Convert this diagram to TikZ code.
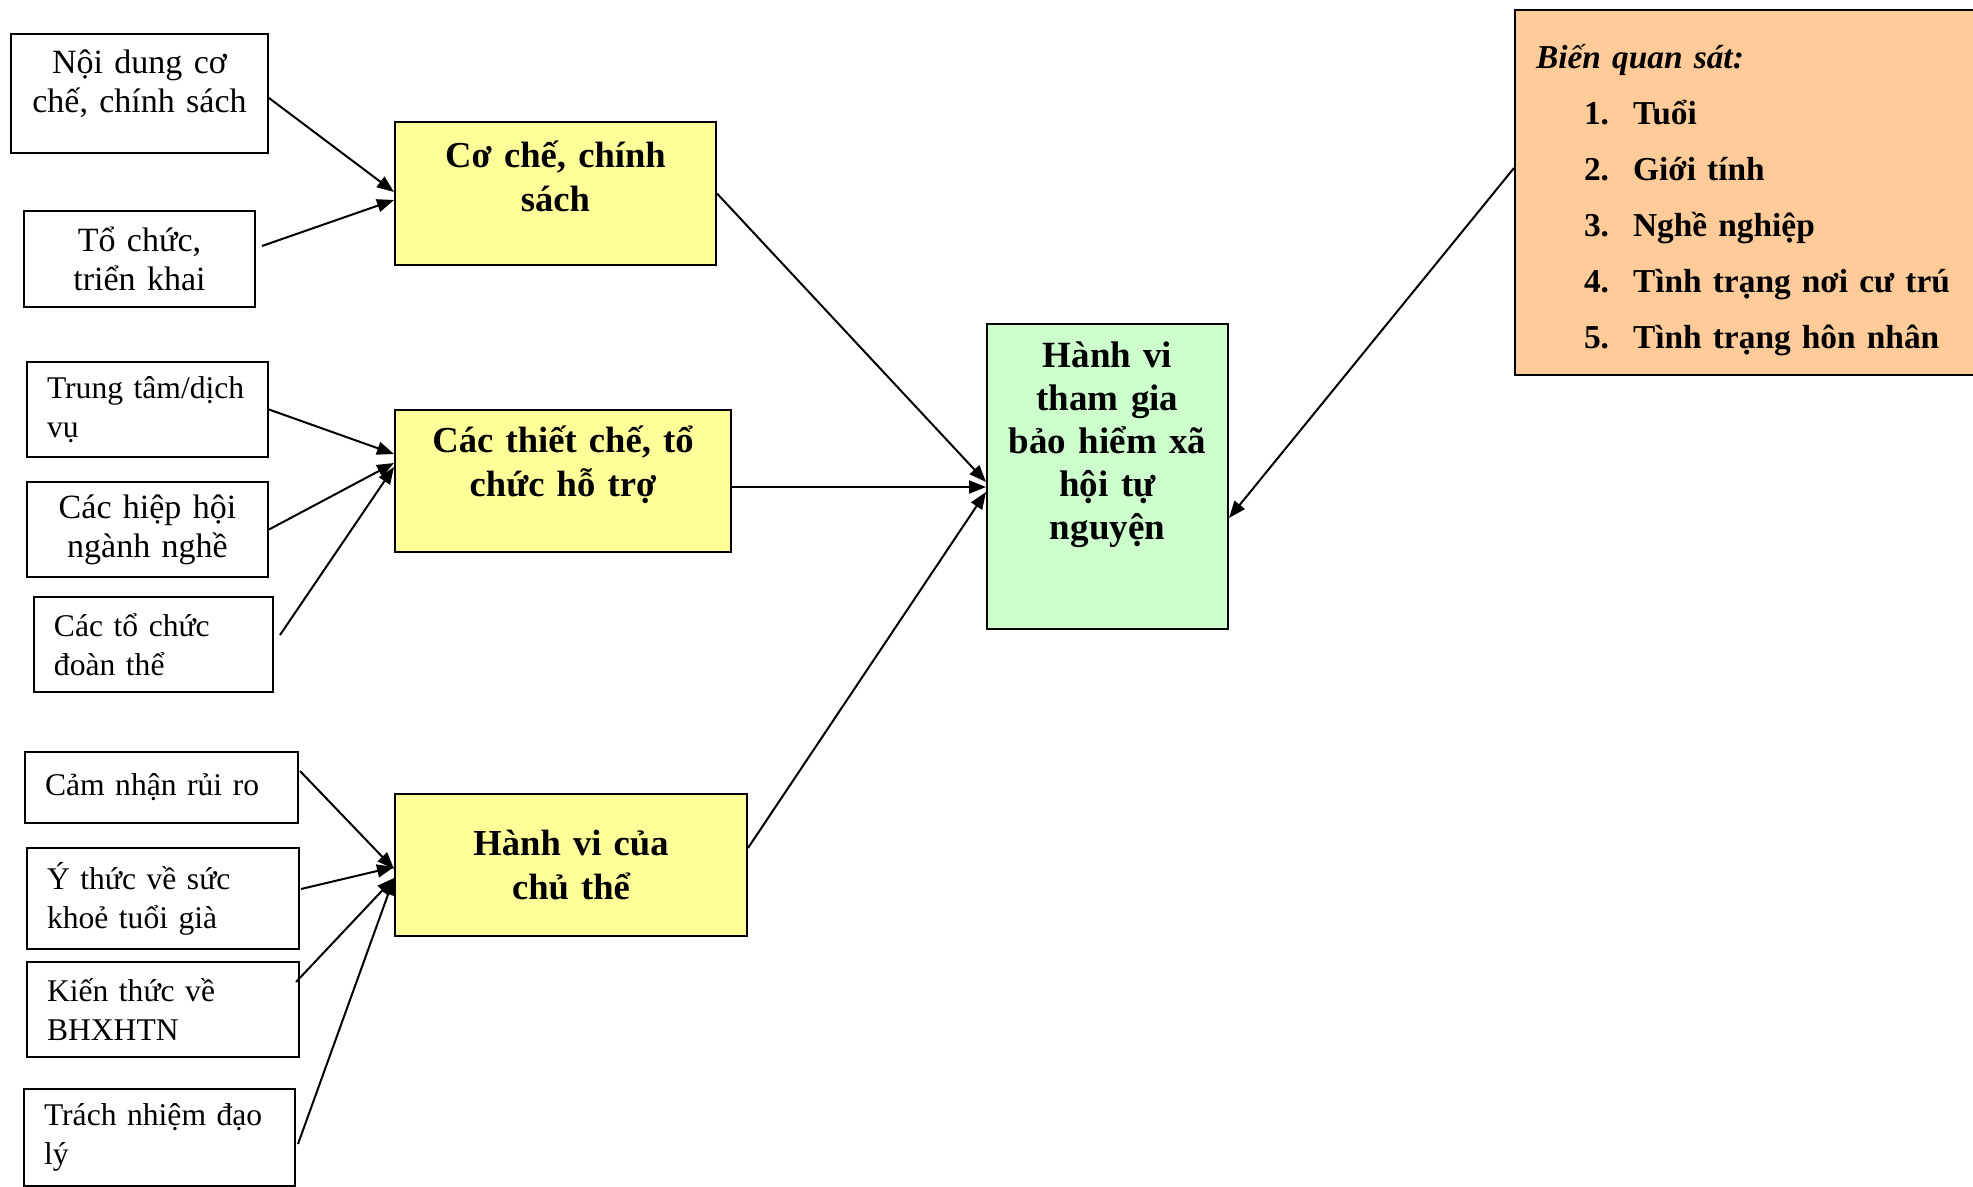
\documentclass[tikz,border=0pt]{standalone}
\usepackage{fontspec}
\setmainfont{Liberation Serif}
\usetikzlibrary{arrows.meta}

\definecolor{yelo}{HTML}{FFFF99}
\definecolor{mint}{HTML}{CCFFCC}
\definecolor{peach}{HTML}{FFCC99}

\begin{document}
\begin{tikzpicture}[x=0.5pt, y=-0.5pt,
  box/.style={draw, line width=1pt, anchor=north west, inner xsep=10pt, inner ysep=0pt,
    align=left, font=\fontsize{15.8}{19.5}\selectfont},
  midbox/.style={box, inner xsep=4pt, align=center, font=\fontsize{17}{19.5}\selectfont},
  keybox/.style={midbox, fill=yelo, font=\fontsize{18.3}{22}\bfseries},
  arr/.style={-{Triangle[length=8.5pt, width=6.5pt]}, line width=1pt}]

\useasboundingbox (0,0) rectangle (1973,1187);

\node [midbox, text width=120.5pt, minimum height=59.5pt] (noidung) at (10,33)
  {Nội dung cơ\\chế, chính sách\rule[-12pt]{0pt}{0pt}};
\node [midbox, text width=107.5pt, minimum height=48pt] (tochuc) at (23,210)
  {Tổ chức,\\triển khai};
\node [box, text width=100.5pt, minimum height=47.5pt] (trungtam) at (26,361)
  {Trung tâm/dịch\\vụ};
\node [midbox, text width=112.5pt, minimum height=47.5pt] (hiephoi) at (26,481)
  {Các hiệp hội\\ngành nghề};
\node [box, text width=99.5pt, minimum height=47.5pt] (doanthe) at (33,596)
  {Các tổ chức\\đoàn thể};
\node [box, text width=116.5pt, minimum height=35.5pt] (ruiro) at (24,751)
  {Cảm nhận rủi ro};
\node [box, text width=116pt, minimum height=50.5pt] (suckhoe) at (26,847)
  {Ý thức về sức\\khoẻ tuổi già};
\node [box, text width=116pt, minimum height=47.5pt] (kienthuc) at (26,961)
  {Kiến thức về\\BHXHTN};
\node [box, text width=115.5pt, minimum height=48.5pt] (daoly) at (23,1088)
  {Trách nhiệm đạo\\lý};

\node [keybox, text width=152.5pt, minimum height=71.5pt] (coche) at (394,121)
  {Cơ chế, chính\\sách\rule[-17pt]{0pt}{0pt}};
\node [keybox, text width=160pt, minimum height=71pt] (thieche) at (394,409)
  {Các thiết chế, tổ\\chức hỗ trợ\rule[-20pt]{0pt}{0pt}};
\node [keybox, text width=168pt, minimum height=71pt] (chuthe) at (394,793)
  {Hành vi của\\chủ thể};

\node [keybox, fill=mint, text width=112.5pt, minimum height=152.5pt,
  font=\fontsize{18.5}{21.5}\bfseries] (hanhvi) at (986,323)
  {Hành vi\\tham gia\\bảo hiểm xã\\hội tự\\nguyện\rule[-36pt]{0pt}{0pt}};

\node [box, fill=peach, inner xsep=10.5pt, text width=219pt, minimum height=182.5pt,
  font=\fontsize{16.7}{28}\bfseries] (bien) at (1514,9)
  {\rule{0pt}{20pt}\textit{Biến quan sát:}\\
   \hspace*{24pt}\makebox[24.5pt][l]{1.}Tuổi\\
   \hspace*{24pt}\makebox[24.5pt][l]{2.}Giới tính\\
   \hspace*{24pt}\makebox[24.5pt][l]{3.}Nghề nghiệp\\
   \hspace*{24pt}\makebox[24.5pt][l]{4.}Tình trạng nơi cư trú\\
   \hspace*{24pt}\makebox[24.5pt][l]{5.}Tình trạng hôn nhân};

\draw [arr] ([yshift=-2.25pt]noidung.east) -- ([yshift=0.75pt]coche.west);
\draw [arr] ([shift={(3pt,6.5pt)}]tochuc.east) -- ([yshift=-3.25pt]coche.west);

\draw [arr] (trungtam.east) -- ([yshift=13.5pt]thieche.west);
\draw [arr] (hiephoi.east) -- ([yshift=9pt]thieche.west);
\draw [arr] ([shift={(3pt,4.75pt)}]doanthe.east) -- ([yshift=7pt]thieche.west);

\draw [arr] ([shift={(0.5pt,8.25pt)}]ruiro.east) -- ([yshift=-2pt]chuthe.west);
\draw [arr] ([shift={(0.5pt,4.75pt)}]suckhoe.east) -- ([yshift=-1pt]chuthe.west);
\draw [arr] ([shift={(-2pt,13.75pt)}]kienthuc.east) -- ([yshift=-6.5pt]chuthe.west);
\draw [arr] ([shift={(1pt,-3.25pt)}]daoly.east) -- ([yshift=-6.5pt]chuthe.west);

\draw [arr] (coche.east) -- ([yshift=-2.75pt]hanhvi.west);
\draw [arr] ([yshift=-3pt]thieche.east) -- ([yshift=-5.25pt]hanhvi.west);
\draw [arr] ([yshift=8.5pt]chuthe.east) -- ([yshift=-7.75pt]hanhvi.west);
\draw [arr] ([yshift=12.25pt]bien.west) -- ([yshift=-20.75pt]hanhvi.east);
\end{tikzpicture}
\end{document}
